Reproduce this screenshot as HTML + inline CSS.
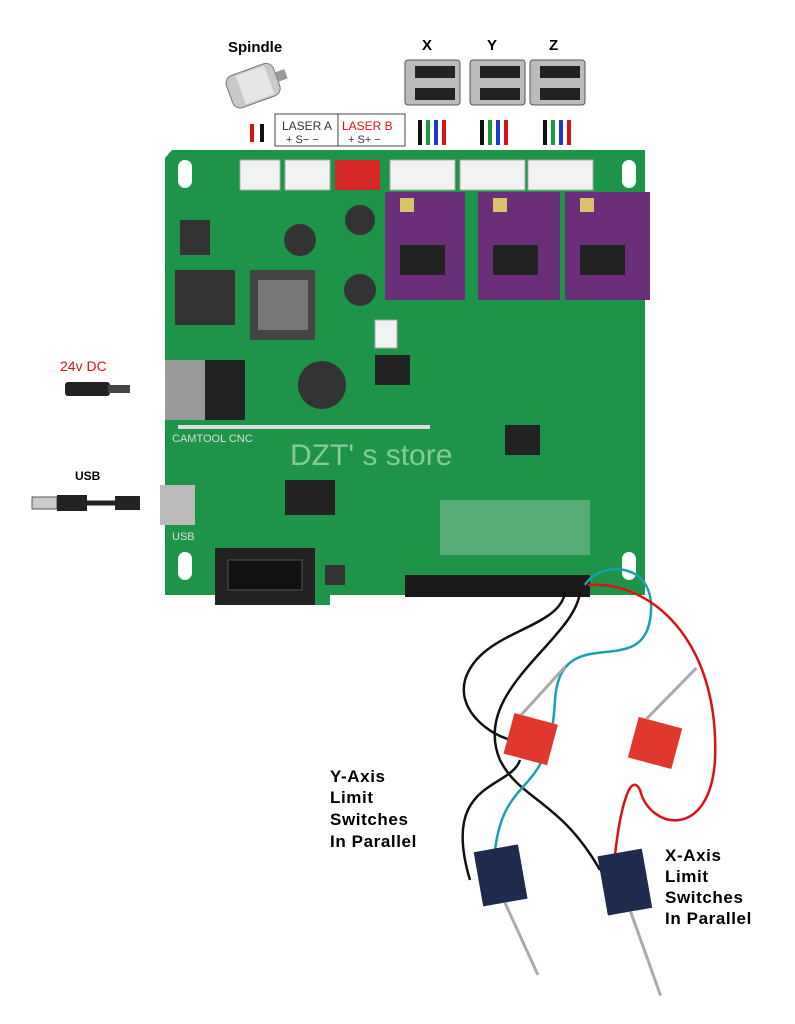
<!DOCTYPE html>
<html><head><meta charset="utf-8"><style>
html,body{margin:0;padding:0;background:#fff;}
svg{display:block;}
text{font-family:"Liberation Sans",sans-serif;}
</style></head><body>
<svg width="795" height="1024" viewBox="0 0 795 1024" xmlns="http://www.w3.org/2000/svg">
<rect width="795" height="1024" fill="#fff"/>
<text x="228" y="52" font-size="15" font-weight="bold">Spindle</text>
<g transform="rotate(-20 255 85)">
<rect x="228" y="68" width="50" height="34" rx="8" fill="#c9c9c9" stroke="#777"/>
<rect x="240" y="70" width="30" height="30" fill="#e6e6e6"/>
<rect x="278" y="80" width="10" height="10" fill="#999"/>
</g>
<text x="422" y="50" font-size="15" font-weight="bold">X</text>
<text x="487" y="50" font-size="15" font-weight="bold">Y</text>
<text x="549" y="50" font-size="15" font-weight="bold">Z</text>
<g fill="#bbb" stroke="#555">
<rect x="405" y="60" width="55" height="45" rx="3"/><rect x="470" y="60" width="55" height="45" rx="3"/><rect x="530" y="60" width="55" height="45" rx="3"/>
</g>
<g fill="#222"><rect x="415" y="66" width="40" height="12"/><rect x="480" y="66" width="40" height="12"/><rect x="540" y="66" width="40" height="12"/>
<rect x="415" y="88" width="40" height="12"/><rect x="480" y="88" width="40" height="12"/><rect x="540" y="88" width="40" height="12"/></g>
<g stroke-width="4">
<line x1="252" y1="124" x2="252" y2="142" stroke="#d11"/><line x1="262" y1="124" x2="262" y2="142" stroke="#111"/>
<line x1="420" y1="120" x2="420" y2="145" stroke="#111"/><line x1="428" y1="120" x2="428" y2="145" stroke="#1a9a3a"/><line x1="436" y1="120" x2="436" y2="145" stroke="#1a3ad0"/><line x1="444" y1="120" x2="444" y2="145" stroke="#d11"/>
<line x1="482" y1="120" x2="482" y2="145" stroke="#111"/><line x1="490" y1="120" x2="490" y2="145" stroke="#1a9a3a"/><line x1="498" y1="120" x2="498" y2="145" stroke="#1a3ad0"/><line x1="506" y1="120" x2="506" y2="145" stroke="#d11"/>
<line x1="545" y1="120" x2="545" y2="145" stroke="#111"/><line x1="553" y1="120" x2="553" y2="145" stroke="#1a9a3a"/><line x1="561" y1="120" x2="561" y2="145" stroke="#1a3ad0"/><line x1="569" y1="120" x2="569" y2="145" stroke="#d11"/>
</g>
<rect x="275" y="114" width="130" height="32" fill="#fff" stroke="#444"/>
<line x1="338" y1="114" x2="338" y2="146" stroke="#444"/>
<text x="282" y="130" font-size="12" fill="#333">LASER A</text>
<text x="286" y="143" font-size="11" fill="#333">+ S− −</text>
<text x="342" y="130" font-size="12" fill="#d11">LASER B</text>
<text x="348" y="143" font-size="11" fill="#333">+ S+ −</text>
<path d="M172 150 H645 V595 H330 V605 H215 V595 H165 V158 Z" fill="#1d9447"/>
<g fill="#fff"><rect x="178" y="160" width="14" height="28" rx="7"/><rect x="622" y="160" width="14" height="28" rx="7"/><rect x="178" y="552" width="14" height="28" rx="7"/><rect x="622" y="552" width="14" height="28" rx="7"/></g>
<g fill="#f2f2f2" stroke="#aaa"><rect x="240" y="160" width="40" height="30"/><rect x="285" y="160" width="45" height="30"/><rect x="390" y="160" width="65" height="30"/><rect x="460" y="160" width="65" height="30"/><rect x="528" y="160" width="65" height="30"/><rect x="375" y="320" width="22" height="28"/></g>
<rect x="335" y="160" width="45" height="30" fill="#d62828"/>
<g fill="#6b2f7a"><rect x="385" y="192" width="80" height="108"/><rect x="478" y="192" width="82" height="108"/><rect x="565" y="192" width="85" height="108"/></g>
<g fill="#222"><rect x="400" y="245" width="45" height="30"/><rect x="493" y="245" width="45" height="30"/><rect x="580" y="245" width="45" height="30"/></g>
<g fill="#d9c36a"><rect x="400" y="198" width="14" height="14"/><rect x="493" y="198" width="14" height="14"/><rect x="580" y="198" width="14" height="14"/></g>
<rect x="175" y="270" width="60" height="55" fill="#333"/>
<rect x="250" y="270" width="65" height="70" fill="#444"/><rect x="258" y="280" width="50" height="50" fill="#777"/>
<rect x="180" y="220" width="30" height="35" fill="#333"/>
<rect x="165" y="360" width="75" height="60" fill="#999"/><rect x="205" y="360" width="40" height="60" fill="#222"/>
<circle cx="300" cy="240" r="16" fill="#333"/><circle cx="360" cy="220" r="15" fill="#333"/><circle cx="360" cy="290" r="16" fill="#333"/><circle cx="322" cy="385" r="24" fill="#333"/>
<rect x="375" y="355" width="35" height="30" fill="#222"/>
<rect x="505" y="425" width="35" height="30" fill="#222"/>
<rect x="285" y="480" width="50" height="35" fill="#222"/>
<rect x="160" y="485" width="35" height="40" fill="#bbb"/>
<rect x="178" y="425" width="252" height="4" fill="#ddd"/>
<text x="172" y="442" font-size="11" fill="#ddd">CAMTOOL CNC</text>
<text x="172" y="540" font-size="11" fill="#ddd">USB</text>
<text x="290" y="465" font-size="30" fill="#9fd8b0" opacity="0.8">DZT' s store</text>
<rect x="440" y="500" width="150" height="55" fill="#d9e6dd" opacity="0.3"/>
<rect x="215" y="548" width="100" height="57" fill="#222"/><rect x="228" y="560" width="74" height="30" fill="#111" stroke="#555"/>
<rect x="325" y="565" width="20" height="20" fill="#333"/>
<rect x="405" y="575" width="185" height="22" fill="#1a1a1a"/>
<g fill="none" stroke-width="2.5">
<path d="M565 592 C560 630 480 630 465 680 C455 720 510 745 520 740" stroke="#111"/>
<path d="M520 760 C510 790 440 780 470 880" stroke="#111"/>
<path d="M580 592 C575 640 470 690 500 760 C520 800 560 800 600 870" stroke="#111"/>
<path d="M585 585 C600 560 660 560 650 620 C640 680 560 620 555 700 C550 800 505 770 495 850" stroke="#1aa0b0"/>
<path d="M588 585 C650 580 720 640 715 760 C710 840 650 830 640 790 C630 770 620 810 615 855" stroke="#d11"/>
</g>
<g transform="rotate(15 530 740)"><rect x="508" y="718" width="45" height="42" fill="#e0382c"/><line x1="515" y1="718" x2="545" y2="660" stroke="#aaa" stroke-width="3"/></g>
<g transform="rotate(15 655 745)"><rect x="632" y="722" width="45" height="42" fill="#e0382c"/><line x1="640" y1="722" x2="675" y2="660" stroke="#aaa" stroke-width="3"/></g>
<g transform="rotate(-10 500 875)"><rect x="478" y="848" width="45" height="55" fill="#1e2a4e"/><line x1="500" y1="903" x2="520" y2="980" stroke="#aaa" stroke-width="3"/></g>
<g transform="rotate(-10 625 880)"><rect x="602" y="852" width="45" height="60" fill="#1e2a4e"/><line x1="625" y1="912" x2="640" y2="1000" stroke="#aaa" stroke-width="3"/></g>
<text x="60" y="371" font-size="14" fill="#d11">24v DC</text>
<rect x="65" y="382" width="45" height="14" rx="3" fill="#222"/><rect x="108" y="385" width="22" height="8" fill="#444"/>
<text x="75" y="480" font-size="12" font-weight="bold">USB</text>
<rect x="32" y="497" width="25" height="12" fill="#ccc" stroke="#555"/><rect x="57" y="495" width="30" height="16" fill="#222"/><line x1="87" y1="503" x2="115" y2="503" stroke="#222" stroke-width="5"/><rect x="115" y="496" width="25" height="14" fill="#222"/>
<g font-size="17" font-weight="bold" letter-spacing="0.6">
<text x="330" y="782">Y-Axis</text><text x="330" y="803">Limit</text><text x="330" y="825">Switches</text><text x="330" y="847">In Parallel</text>
<text x="665" y="861">X-Axis</text><text x="665" y="882">Limit</text><text x="665" y="903">Switches</text><text x="665" y="924">In Parallel</text>
</g>
</svg>
</body></html>
